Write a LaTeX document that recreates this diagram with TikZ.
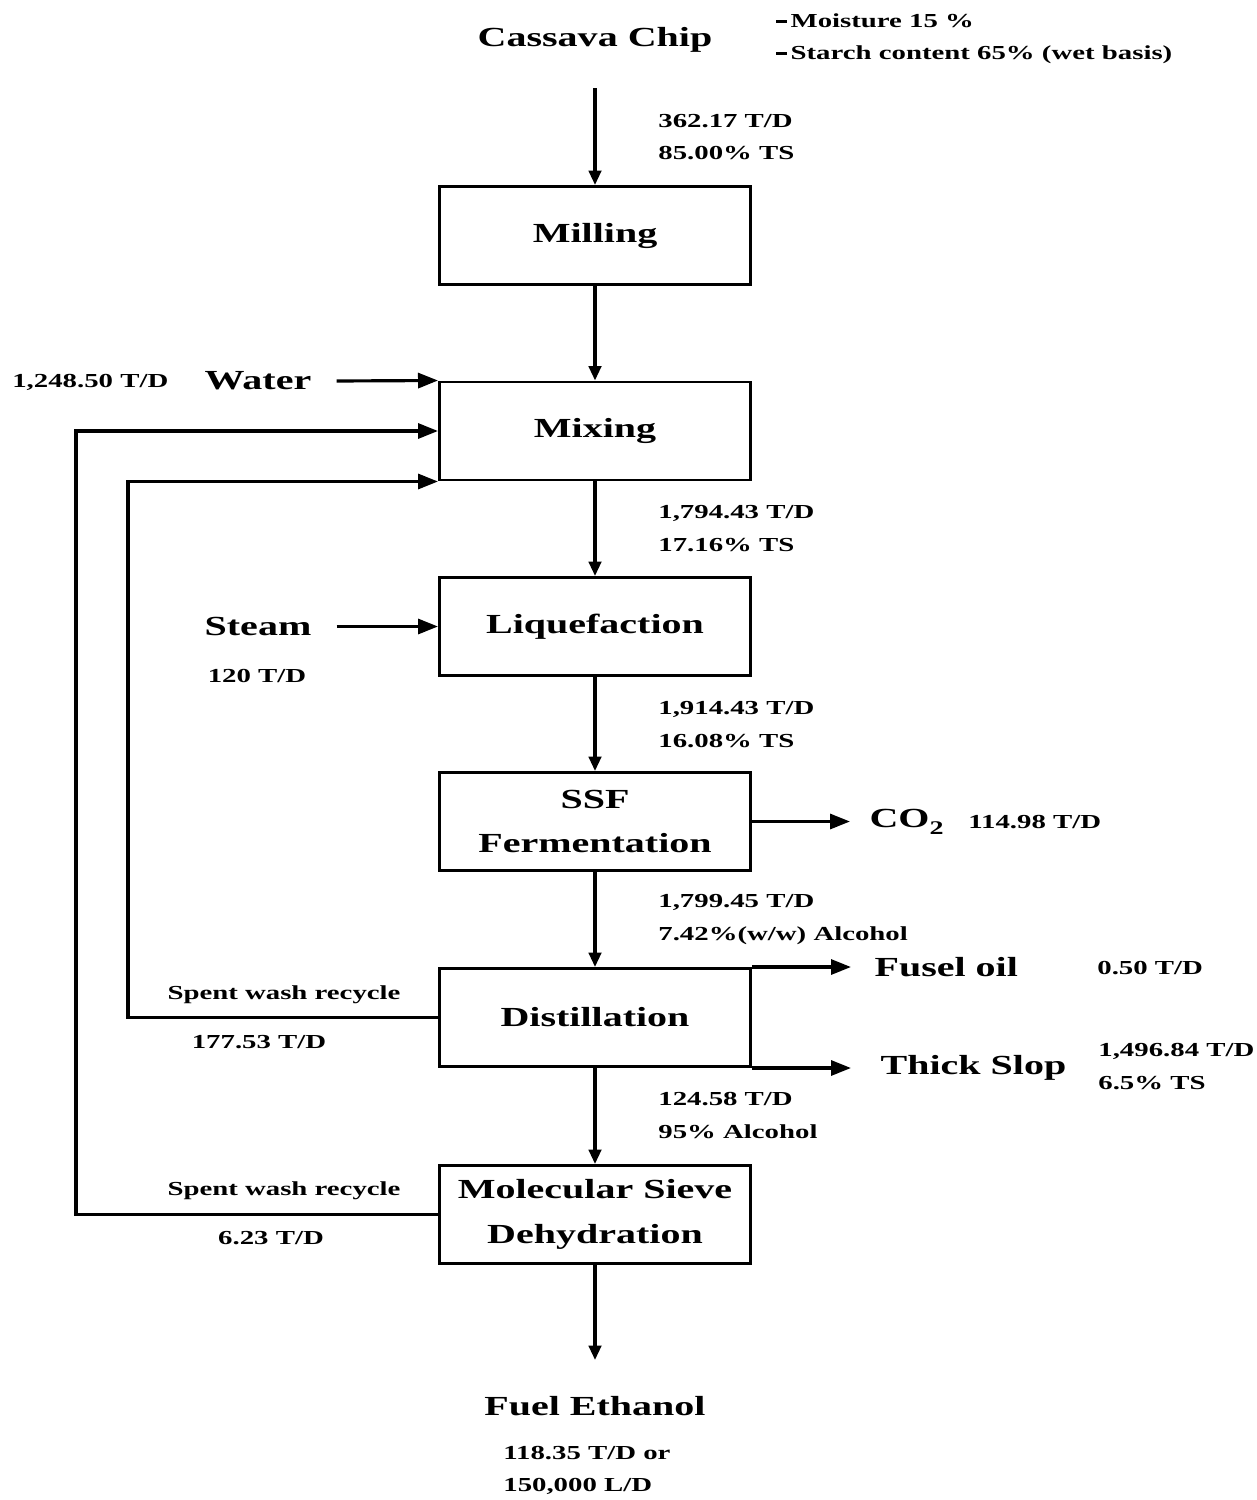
\documentclass[tikz,border=0pt]{standalone}
\usepackage{fontspec}
\setmainfont{Liberation Serif}[FakeStretch=1.45]
\usetikzlibrary{arrows.meta,positioning}
\newcommand{\bigfont}{\fontsize{15.7}{25.5}\selectfont\bfseries}
\newcommand{\smallfont}{\fontsize{11.3}{18.3}\selectfont\bfseries}
\newcommand{\notebar}{\rule[0.22em]{0.55em}{0.16em}\,}
\tikzset{
  unit/.style={draw,line width=1.7pt,minimum width=6.22cm,minimum height=1.96cm,align=center,font=\bigfont},
  stream/.style={font=\bigfont,inner sep=0pt},
  rate/.style={font=\smallfont,align=left,inner sep=0pt},
  flow/.style={line width=1.8pt,-{Triangle[length=0.29cm,width=0.25cm]}},
  sideflow/.style={line width=1.8pt,-{Triangle[length=0.4cm,width=0.3cm]}},
}

\begin{document}
\begin{tikzpicture}
  \useasboundingbox (0,0) rectangle (25.12,-30);
  % process units
  \node[unit] (mill)  at (11.9,-4.71)  {Milling};
  \node[unit] (mix)   at (11.9,-8.62)  {Mixing};
  \node[unit] (liq)   at (11.9,-12.53) {Liquefaction};
  \node[unit] (ssf)   at (11.9,-16.43) {SSF\\Fermentation};
  \node[unit] (dist)  at (11.9,-20.35) {Distillation};
  \node[unit] (sieve) at (11.9,-24.29) {Molecular Sieve\\Dehydration};
  % feed
  \node[stream] (chip) at (11.9,-0.8) {Cassava Chip};
  \node[rate,anchor=west] (chipnote) at (15.52,-0.78) {\notebar Moisture 15 \%\\\notebar Starch content 65\% (wet basis)};
  \draw[flow] ([yshift=-0.71cm]chip.south) -- (mill);
  \node[rate,anchor=west] (millin) at (13.16,-2.74) {362.17 T/D\\85.00\% TS};
  \draw[flow] (mill) -- (mix);
  % water and recycles into mixing
  \node[stream] (water) at (5.16,-7.62) {Water};
  \node[rate,anchor=west] (waterr) at (0.24,-7.64) {1,248.50 T/D};
  \draw[sideflow] (water.east) ++(0.5,0) -- (mix.north west);
  \coordinate (wash1) at (1.52,0);
  \coordinate (wash2) at (2.56,0);
  \draw[sideflow] (sieve.west) -- (sieve.west -| wash1) |- (mix.west);
  \draw[sideflow] (dist.west) -- (dist.west -| wash2) |- (mix.south west);
  \node[rate] (wash2t) at (5.68,-19.9)  {Spent wash recycle};
  \node[rate] (wash2r) at (5.18,-20.84) {177.53 T/D};
  \node[rate] (wash1t) at (5.68,-23.82) {Spent wash recycle};
  \node[rate] (wash1r) at (5.42,-24.76) {6.23 T/D};
  % liquefaction
  \draw[flow] (mix) -- (liq);
  \node[rate,anchor=west] (mixout) at (13.16,-10.57) {1,794.43 T/D\\17.16\% TS};
  \node[stream] (steam) at (5.16,-12.53) {Steam};
  \node[rate] (steamr) at (5.14,-13.52) {120 T/D};
  \draw[sideflow] (steam.east) ++(0.5,0) -- (liq.west);
  % fermentation
  \draw[flow] (liq) -- (ssf);
  \node[rate,anchor=west] (liqout) at (13.16,-14.49) {1,914.43 T/D\\16.08\% TS};
  \draw[sideflow] (ssf.east) -- ++(1.96,0) node[stream,right=0.36cm] (co2) {CO\raisebox{-0.55ex}{\fontsize{11}{11}\selectfont 2}};
  \node[rate,anchor=west] (co2r) at (19.36,-16.44) {114.98 T/D};
  % distillation
  \draw[flow] (ssf) -- (dist);
  \node[rate,anchor=west] (ssfout) at (13.16,-18.39) {1,799.45 T/D\\7.42\%(w/w) Alcohol};
  \draw[sideflow] (dist.north east) -- ++(1.98,0) node[stream,right=0.44cm] (fusel) {Fusel oil};
  \draw[sideflow] (dist.south east) -- ++(1.98,0) node[stream,right=0.56cm] (slop) {Thick Slop};
  \node[rate,anchor=west] (fuselr) at (21.94,-19.36) {0.50 T/D};
  \node[rate,anchor=west] (slopr) at (21.96,-21.33) {1,496.84 T/D\\6.5\% TS};
  % dehydration and product
  \draw[flow] (dist) -- (sieve);
  \node[rate,anchor=west] (distout) at (13.16,-22.31) {124.58 T/D\\95\% Alcohol};
  \draw[flow] (sieve.south) -- ++(0,-1.9) node[stream,below=0.7cm] (fuel) {Fuel Ethanol};
  \node[rate,anchor=west] (fuelr) at (10.06,-29.41) {118.35 T/D or\\150,000 L/D};
\end{tikzpicture}
\end{document}
